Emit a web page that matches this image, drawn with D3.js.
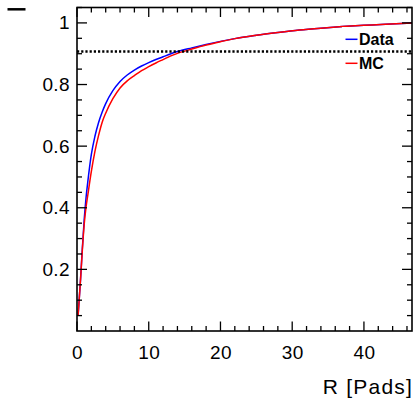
<!DOCTYPE html>
<html>
<head>
<meta charset="utf-8">
<script src="https://cdn.jsdelivr.net/npm/d3@7"></script>
<style>
  html, body { margin: 0; padding: 0; background: #fff; }
  svg { display: block; }
  text { font-family: "Liberation Sans", Arial, sans-serif; }
</style>
</head>
<body>
<svg id="chart" width="415" height="400"></svg>
<script>
// ---- data ----
const rValues = [0.15, 0.3, 0.5, 0.75, 1.0, 1.25, 1.5, 2.0, 2.5, 3.0, 3.5, 4.0, 5.0, 6.0, 7.0, 8.0, 9.0, 10.0, 11.0, 12.0, 13.0, 14.0, 16.0, 18.0, 20.0, 22.0, 25.0, 28.0, 31.0, 34.0, 37.0, 40.0, 43.0, 46.7];
const dataValues = [0.05, 0.10, 0.17, 0.27, 0.36, 0.43, 0.483, 0.573, 0.632, 0.676, 0.710, 0.738, 0.780, 0.810, 0.831, 0.847, 0.860, 0.871, 0.881, 0.890, 0.899, 0.907, 0.919, 0.930, 0.940, 0.949, 0.960, 0.969, 0.977, 0.983, 0.988, 0.992, 0.996, 1.0];
const mcValues = [0.05, 0.10, 0.17, 0.265, 0.345, 0.40, 0.44, 0.518, 0.583, 0.634, 0.677, 0.707, 0.754, 0.789, 0.812, 0.829, 0.845, 0.858, 0.870, 0.881, 0.892, 0.901, 0.915, 0.928, 0.939, 0.949, 0.960, 0.969, 0.977, 0.983, 0.988, 0.992, 0.996, 1.0];
const thresholdValue = 0.907;
const xTickLabels = [0, 10, 20, 30, 40];
const yTickLabels = [0.2, 0.4, 0.6, 0.8, 1];
const seriesNames = ["Data", "MC"];
const seriesColors = ["#0000ff", "#ff0000"];
const xTitle = "R [Pads]";

// ---- layout ----
const svg = d3.select("#chart");
const pL = 77, pR = 412, pT = 7.5, pB = 331;
const x = d3.scaleLinear().domain([0, 46.7]).range([pL, pR]);
const y = d3.scaleLinear().domain([0, 1.05]).range([pB, pT]);

// curves
const line = d3.line().x((d) => x(d[0])).y((d) => y(d[1])).curve(d3.curveMonotoneX);
const series = [dataValues, mcValues];
series.forEach((vals, i) => {
  svg.append("path")
    .datum(rValues.map((r, j) => [r, vals[j]]))
    .attr("d", line)
    .attr("fill", "none")
    .attr("stroke", seriesColors[i])
    .attr("stroke-width", 1.5);
});

// legend box (white fill)
svg.append("rect").attr("x", 342).attr("y", 27).attr("width", 70).attr("height", 52).attr("fill", "#fff");
const legY = [39.3, 63.3];
seriesNames.forEach((n, i) => {
  svg.append("line").attr("x1", 345.5).attr("x2", 357.5).attr("y1", legY[i]).attr("y2", legY[i])
    .attr("stroke", seriesColors[i]).attr("stroke-width", 1.5);
  svg.append("text").attr("x", 359).attr("y", legY[i] + 6)
    .attr("font-size", 16).attr("font-weight", "bold").attr("fill", "#000").text(n);
});

// threshold dotted line
svg.append("line").attr("x1", x(0)).attr("x2", x(46.7))
  .attr("y1", y(thresholdValue)).attr("y2", y(thresholdValue))
  .attr("stroke", "#000").attr("stroke-width", 2.4).attr("stroke-dasharray", "2.2,2");

// axes
const fontSize = 19;
const xMajor = d3.range(0, 46.7, 10);
const xMinor = d3.range(0, 46.7, 2).filter((v) => v % 10 !== 0);
const yMajor = [0.2, 0.4, 0.6, 0.8, 1.0];
const yMinor = d3.range(1, 22).map((k) => k * 0.05).filter((v) => Math.abs(v * 5 - Math.round(v * 5)) > 1e-6);

const bottomAxis = d3.axisBottom(x).tickValues(xTickLabels).tickSize(0).tickPadding(15).tickFormat(d3.format("d"));
const gB = svg.append("g").attr("transform", `translate(0,${pB})`).call(bottomAxis);
gB.select(".domain").remove();
gB.selectAll("text").attr("font-size", fontSize).attr("letter-spacing", "0.4px").attr("font-family", "Liberation Sans, Arial, sans-serif").attr("fill", "#000");

const leftAxis = d3.axisLeft(y).tickValues(yTickLabels).tickSize(0).tickPadding(7).tickFormat((d) => String(d));
const gL = svg.append("g").attr("transform", `translate(${pL},0)`).call(leftAxis);
gL.select(".domain").remove();
gL.selectAll("text").attr("font-size", fontSize).attr("letter-spacing", "0.4px").attr("font-family", "Liberation Sans, Arial, sans-serif").attr("fill", "#000");

const ticks = svg.append("g").attr("stroke", "#000").attr("stroke-width", 1.3);
xMajor.forEach((v) => {
  ticks.append("line").attr("x1", x(v)).attr("x2", x(v)).attr("y1", pB).attr("y2", pB - 9.5);
  ticks.append("line").attr("x1", x(v)).attr("x2", x(v)).attr("y1", pT).attr("y2", pT + 9.5);
});
xMinor.forEach((v) => {
  ticks.append("line").attr("x1", x(v)).attr("x2", x(v)).attr("y1", pB).attr("y2", pB - 5);
  ticks.append("line").attr("x1", x(v)).attr("x2", x(v)).attr("y1", pT).attr("y2", pT + 5);
});
yMajor.forEach((v) => {
  ticks.append("line").attr("x1", pL).attr("x2", pL + 10).attr("y1", y(v)).attr("y2", y(v));
  ticks.append("line").attr("x1", pR).attr("x2", pR - 10).attr("y1", y(v)).attr("y2", y(v));
});
yMinor.forEach((v) => {
  ticks.append("line").attr("x1", pL).attr("x2", pL + 5).attr("y1", y(v)).attr("y2", y(v));
  ticks.append("line").attr("x1", pR).attr("x2", pR - 5).attr("y1", y(v)).attr("y2", y(v));
});

// frame
svg.append("rect").attr("x", pL).attr("y", pT).attr("width", pR - pL).attr("height", pB - pT)
  .attr("fill", "none").attr("stroke", "#000").attr("stroke-width", 1.6);

// x title
svg.append("text").attr("x", 413).attr("y", 394).attr("text-anchor", "end")
  .attr("font-size", 21).attr("letter-spacing", "1.2px").attr("fill", "#000").text(xTitle);

// y title remnant (short dash at top-left)
svg.append("line").attr("x1", 7.5).attr("x2", 25.5).attr("y1", 9.3).attr("y2", 9.3)
  .attr("stroke", "#000").attr("stroke-width", 2.5);
</script>
</body>
</html>
